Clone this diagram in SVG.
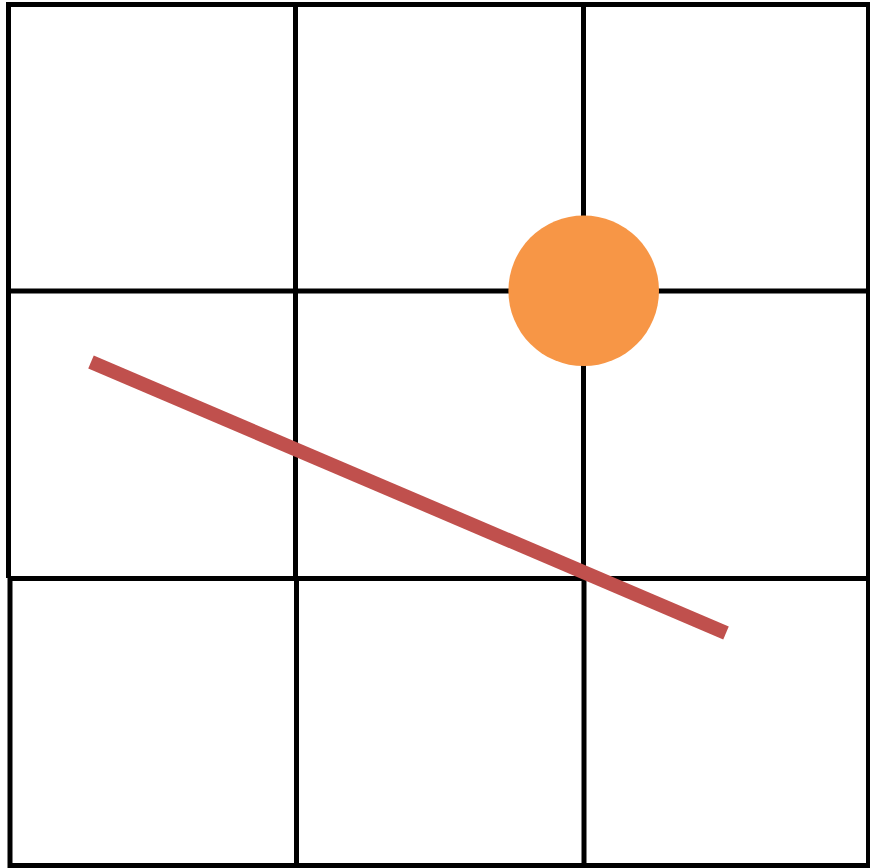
<svg xmlns="http://www.w3.org/2000/svg" width="870" height="868" viewBox="0 0 870 868">
<style>
.g{stroke:#000;stroke-width:5;fill:none}
</style>
<rect width="870" height="868" fill="#fff"/>
<g id="grid" class="g">
<line x1="6" y1="4.5" x2="870" y2="4.5"/>
<line x1="8" y1="291" x2="870" y2="291"/>
<line x1="8" y1="578.5" x2="870" y2="578.5"/>
<line x1="8" y1="865.5" x2="870" y2="865.5"/>
<line x1="8.5" y1="2" x2="8.5" y2="578"/>
<line x1="10" y1="578" x2="10" y2="868"/>
<line x1="295.5" y1="4" x2="295.5" y2="578"/>
<line x1="296.5" y1="578" x2="296.5" y2="866"/>
<line x1="583.5" y1="4" x2="583.5" y2="578"/>
<line x1="584" y1="578" x2="584" y2="866"/>
<line x1="868.5" y1="2" x2="868.5" y2="868"/>
</g>
<g id="circle"><circle cx="583.7" cy="290.8" r="75.3" fill="#f79646"/></g>
<g id="line"><line x1="91" y1="362" x2="726" y2="633" stroke="#c0504d" stroke-width="14"/></g>
</svg>
